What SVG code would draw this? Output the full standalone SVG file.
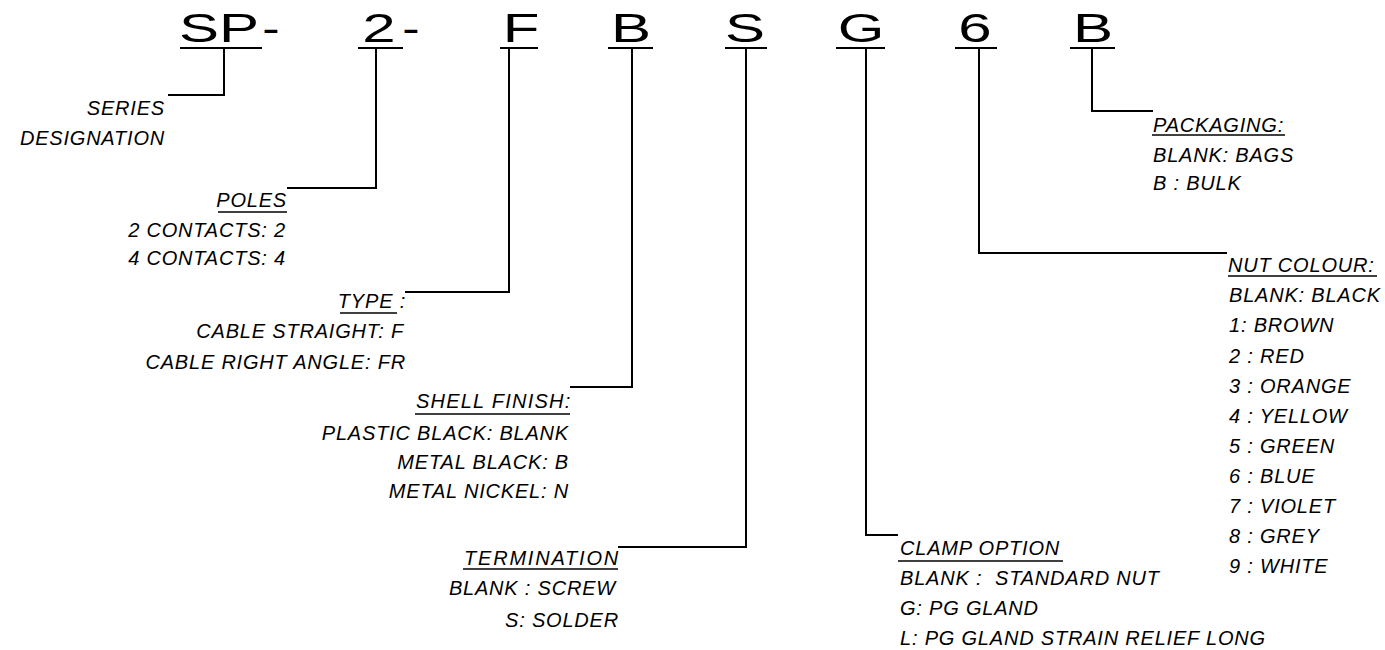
<svg xmlns="http://www.w3.org/2000/svg" width="1385" height="650" viewBox="0 0 1385 650">
<style>
.code{font-family:"Liberation Sans",Arial,sans-serif;font-size:40px;fill:#000;text-anchor:middle}
.lbl{font-family:"Liberation Sans",Arial,sans-serif;font-size:20px;font-style:italic;fill:#000;letter-spacing:0.8px}
.end{text-anchor:end}
.ul{stroke:#000;stroke-width:1.3;fill:none}
.cul{stroke:#000;stroke-width:2;fill:none}
.conn{stroke:#000;stroke-width:2;fill:none}
</style>
<rect width="1385" height="650" fill="#fff"/>
<g id="code">
<text class="code" transform="translate(219,42) scale(1.5,1)">SP</text>
<text class="code" transform="translate(271,42) scale(1.3,1)">-</text>
<text class="code" transform="translate(379,42) scale(1.5,1)">2</text>
<text class="code" transform="translate(411,42) scale(1.3,1)">-</text>
<text class="code" transform="translate(521,42) scale(1.5,1)">F</text>
<text class="code" transform="translate(631,42) scale(1.5,1)">B</text>
<text class="code" transform="translate(745,42) scale(1.5,1)">S</text>
<text class="code" transform="translate(861,42) scale(1.5,1)">G</text>
<text class="code" transform="translate(975,42) scale(1.5,1)">6</text>
<text class="code" transform="translate(1093,42) scale(1.5,1)">B</text>
<line class="cul" x1="180" y1="48" x2="262" y2="48"/>
<line class="cul" x1="358" y1="48" x2="403" y2="48"/>
<line class="cul" x1="500" y1="48" x2="538" y2="48"/>
<line class="cul" x1="608" y1="48" x2="653" y2="48"/>
<line class="cul" x1="725" y1="48" x2="767" y2="48"/>
<line class="cul" x1="836" y1="48" x2="885" y2="48"/>
<line class="cul" x1="955" y1="48" x2="997" y2="48"/>
<line class="cul" x1="1070" y1="48" x2="1115" y2="48"/>
</g>
<g id="connectors">
<polyline class="conn" points="224,49 224,95 168,95"/>
<polyline class="conn" points="376,49 376,188 287,188"/>
<polyline class="conn" points="509,49 509,292 405,292"/>
<polyline class="conn" points="632,49 632,387 570,387"/>
<polyline class="conn" points="746,49 746,547 618,547"/>
<polyline class="conn" points="866,49 866,535 898,535"/>
<polyline class="conn" points="979,49 979,253 1227,253"/>
<polyline class="conn" points="1092,49 1092,111 1153,111"/>
</g>
<g id="series">
<text class="lbl end" x="165" y="115">SERIES</text>
<text class="lbl end" x="165" y="145">DESIGNATION</text>
</g>
<g id="poles">
<text class="lbl end" x="287" y="207">POLES</text>
<line class="ul" x1="218" y1="212" x2="287" y2="212"/>
<text class="lbl end" x="286" y="237">2 CONTACTS: 2</text>
<text class="lbl end" x="286" y="265">4 CONTACTS: 4</text>
</g>
<g id="type">
<text class="lbl end" x="406" y="308">TYPE :</text>
<line class="ul" x1="340" y1="313" x2="397" y2="313"/>
<text class="lbl end" x="404" y="338">CABLE STRAIGHT: F</text>
<text class="lbl end" x="406" y="369">CABLE RIGHT ANGLE: FR</text>
</g>
<g id="shell">
<text class="lbl end" x="571" y="408" textLength="155">SHELL FINISH:</text>
<line class="ul" x1="415" y1="414" x2="570" y2="414"/>
<text class="lbl end" x="569" y="440">PLASTIC BLACK: BLANK</text>
<text class="lbl end" x="569" y="469">METAL BLACK: B</text>
<text class="lbl end" x="569" y="498">METAL NICKEL: N</text>
</g>
<g id="termination">
<text class="lbl end" x="619" y="565" textLength="155">TERMINATION</text>
<line class="ul" x1="463" y1="569" x2="618" y2="569"/>
<text class="lbl end" x="616" y="595">BLANK : SCREW</text>
<text class="lbl end" x="619" y="627">S: SOLDER</text>
</g>
<g id="clamp">
<text class="lbl" x="900" y="555">CLAMP OPTION</text>
<line class="ul" x1="898" y1="561" x2="1063" y2="561"/>
<text class="lbl" x="900" y="585" xml:space="preserve">BLANK :  STANDARD NUT</text>
<text class="lbl" x="900" y="615">G: PG GLAND</text>
<text class="lbl" x="900" y="645">L: PG GLAND STRAIN RELIEF LONG</text>
</g>
<g id="nut">
<text class="lbl" x="1228" y="272">NUT COLOUR:</text>
<line class="ul" x1="1228" y1="276" x2="1377" y2="276"/>
<text class="lbl" x="1229" y="302">BLANK: BLACK</text>
<text class="lbl" x="1229" y="332">1: BROWN</text>
<text class="lbl" x="1229" y="363">2 : RED</text>
<text class="lbl" x="1229" y="393">3 : ORANGE</text>
<text class="lbl" x="1229" y="423">4 : YELLOW</text>
<text class="lbl" x="1229" y="453">5 : GREEN</text>
<text class="lbl" x="1229" y="483">6 : BLUE</text>
<text class="lbl" x="1229" y="513">7 : VIOLET</text>
<text class="lbl" x="1229" y="543">8 : GREY</text>
<text class="lbl" x="1229" y="573">9 : WHITE</text>
</g>
<g id="packaging">
<text class="lbl" x="1153" y="132">PACKAGING:</text>
<line class="ul" x1="1152" y1="135" x2="1285" y2="135"/>
<text class="lbl" x="1153" y="162">BLANK: BAGS</text>
<text class="lbl" x="1153" y="190">B : BULK</text>
</g>
</svg>
